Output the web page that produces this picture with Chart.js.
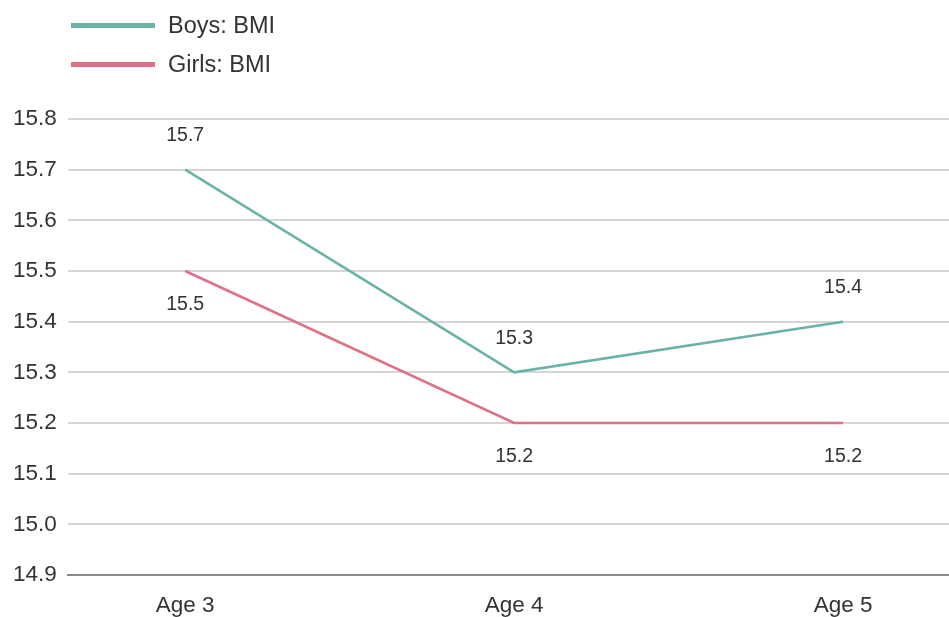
<!DOCTYPE html>
<html>
<head>
<meta charset="utf-8">
<script src="https://cdn.jsdelivr.net/npm/chart.js@4"></script>
<style>
  html, body { margin: 0; padding: 0; background: #fff; overflow: hidden; }
  #wrap { position: relative; width: 949px; height: 617px; }
  #bmiChart { display: block; }
  #legend { position: absolute; left: 71px; top: 6px; font-family: "Liberation Sans", Arial, sans-serif; font-size: 23.5px; color: #333; }
  #legend .item { display: flex; align-items: center; height: 39px; }
  #legend .swatch { display: inline-block; width: 84px; height: 5px; margin-right: 13px; }
</style>
</head>
<body>
<div id="wrap">
  <div id="legend"></div>
  <canvas id="bmiChart" width="949" height="617"></canvas>
</div>
<script>
document.addEventListener('DOMContentLoaded', function() {
    // chart data
    const categories = ['Age 3', 'Age 4', 'Age 5'];
    const boysBMI = [15.7, 15.3, 15.4];
    const girlsBMI = [15.5, 15.2, 15.2];
    const yTicks = [14.9, 15.0, 15.1, 15.2, 15.3, 15.4, 15.5, 15.6, 15.7, 15.8];

    const boysColor = '#6bb3a7';
    const girlsColor = '#e07086';
    const textColor = '#333333';
    const fontFamily = '"Liberation Sans", Arial, sans-serif';

    const toPoints = vals => vals.map((v, i) => ({ x: i, y: v }));

    // value labels: boys above the line, girls below it
    const valueLabels = {
        id: 'valueLabels',
        afterDatasetsDraw(chart) {
            const ctx = chart.ctx;
            ctx.save();
            ctx.font = '19.5px ' + fontFamily;
            ctx.fillStyle = textColor;
            ctx.textAlign = 'center';
            ctx.textBaseline = 'middle';
            chart.data.datasets.forEach((ds, di) => {
                const meta = chart.getDatasetMeta(di);
                meta.data.forEach((pt, i) => {
                    const off = di === 0 ? -34 : 34;
                    ctx.fillText(ds.data[i].y.toFixed(1), pt.x, pt.y + off);
                });
            });
            ctx.restore();
        }
    };

    const ctx = document.getElementById('bmiChart').getContext('2d');
    const chart = new Chart(ctx, {
        type: 'line',
        data: {
            datasets: [{
                label: 'Boys: BMI',
                data: toPoints(boysBMI),
                borderColor: boysColor,
                borderWidth: 2.5,
                pointRadius: 0,
                tension: 0
            }, {
                label: 'Girls: BMI',
                data: toPoints(girlsBMI),
                borderColor: girlsColor,
                borderWidth: 2.5,
                pointRadius: 0,
                tension: 0
            }]
        },
        options: {
            responsive: false,
            animation: false,
            layout: { padding: { top: 119, left: 2, right: 0, bottom: 0 } },
            plugins: {
                legend: { display: false },
                tooltip: { enabled: false }
            },
            scales: {
                x: {
                    type: 'linear',
                    min: -0.357,
                    max: 2.322,
                    grid: { display: false, drawTicks: false },
                    border: { display: true, color: '#8a8a8a', width: 2 },
                    afterBuildTicks: axis => { axis.ticks = categories.map((c, i) => ({ value: i })); },
                    afterFit: axis => { axis.height = 42; },
                    ticks: {
                        padding: 17,
                        color: textColor,
                        font: { family: fontFamily, size: 22.5 },
                        callback: v => categories[v]
                    }
                },
                y: {
                    min: yTicks[0],
                    max: yTicks[yTicks.length - 1],
                    afterBuildTicks: axis => { axis.ticks = yTicks.map(v => ({ value: v })); },
                    grid: { color: '#d6d6d6', lineWidth: 2, drawTicks: false },
                    border: { display: false },
                    ticks: {
                        padding: 11,
                        color: textColor,
                        font: { family: fontFamily, size: 22.5 },
                        callback: v => Number(v).toFixed(1)
                    }
                }
            }
        },
        plugins: [valueLabels]
    });

    // vertical legend built from the datasets
    const legend = document.getElementById('legend');
    chart.data.datasets.forEach(ds => {
        const item = document.createElement('div');
        item.className = 'item';
        const sw = document.createElement('span');
        sw.className = 'swatch';
        sw.style.background = ds.borderColor;
        item.appendChild(sw);
        item.appendChild(document.createTextNode(ds.label));
        legend.appendChild(item);
    });
});
</script>
</body>
</html>
